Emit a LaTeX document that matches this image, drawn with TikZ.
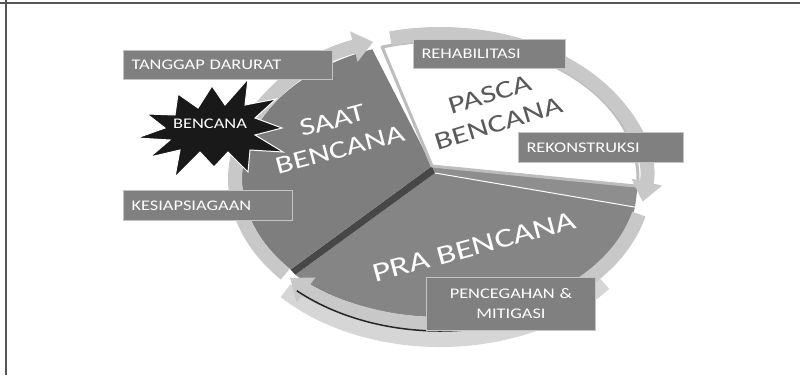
\documentclass[tikz,border=0pt]{standalone}
\usepackage{fontspec}
\usetikzlibrary{arrows.meta,calc}
\newfontfamily\lblfont[FakeStretch=1.25]{Carlito}
\newfontfamily\bigfont[FakeStretch=1.32]{Carlito}
\definecolor{boxgray}{HTML}{808080}
\definecolor{boxedge}{HTML}{C4C4C4}
\definecolor{saatgray}{HTML}{7E7E7E}
\definecolor{pragray}{HTML}{858585}
\definecolor{ringgray}{HTML}{C8C8C8}
\definecolor{ringside}{HTML}{D6D6D6}
\definecolor{sidedark}{HTML}{474747}
\definecolor{pascaside}{HTML}{8E8E8E}
\definecolor{bevel}{HTML}{BDBDBD}
\definecolor{framegray}{HTML}{555555}
\definecolor{pascatext}{HTML}{5A5A5A}
\tikzset{
  lblbox/.style={fill=boxgray, draw=boxedge, line width=1pt, text=white,
    font=\lblfont\fontsize{14.7}{18}\selectfont, anchor=north west,
    inner xsep=8pt, inner ysep=0pt, align=left},
  ringarc/.style={draw=ringgray, line width=14pt, line cap=butt,
    -{Triangle[width=30pt,length=20pt]}},
  bigtxt/.style={font=\bigfont\fontsize{25}{30}\selectfont, align=center, rotate=15, inner sep=0pt},
}
\begin{document}
\begin{tikzpicture}[x=1pt,y=-1pt]
\useasboundingbox (0,0) rectangle (800,375);
\fill[white] (0,0) rectangle (800,375);
% frame
\draw[framegray, line width=2pt] (0,3) -- (800,3);
\draw[framegray, line width=2pt] (6,0) -- (6,375);

\coordinate (E) at (440,179);
\coordinate (E2) at (440,184);
\coordinate (V) at (432,166);
\coordinate (V2) at (435,173);
\coordinate (R) at (440,179);

% lower side of the ring (3D thickness)
\draw[ringside, line width=16pt] ($(440,193)+(38:208 and 146)$) arc[start angle=38, end angle=138, x radius=208, y radius=146];

% PRA sector
\fill[pragray] (V2) -- ($(E2)+(10:198 and 133)$) arc[start angle=10, end angle=137, x radius=198, y radius=133] -- cycle;
% SAAT side face
\fill[sidedark] (V) -- ($(E)+(139:198 and 138)$) -- ($(E2)+(137:198 and 133)$) -- (V2) -- cycle;
% SAAT sector
\fill[saatgray] (V) -- ($(E)+(250:198 and 138)$) arc[start angle=250, end angle=139, x radius=198, y radius=138] -- cycle;
% PASCA side face
\fill[pascaside] (V) -- ($(E)+(363:198 and 138)$) -- ($(E2)+(10:198 and 133)$) -- (V2) -- cycle;
\draw[white, line width=1pt] (V2) -- ($(E2)+(10:198 and 133)$);
% PASCA sector
\filldraw[fill=white, draw=bevel, line width=3pt, line join=round] (V) -- ($(E)+(253:198 and 138)$) arc[start angle=253, end angle=363, x radius=198, y radius=138] -- cycle;

% ring with arrows
\draw[ringarc] ($(R)+(139:205 and 145)$) arc[start angle=139, end angle=251, x radius=205, y radius=145];
\draw[ringarc] ($(R)+(256:205 and 145)$) arc[start angle=256, end angle=369, x radius=205, y radius=145];
\draw[ringarc] ($(R)+(14:205 and 145)$) arc[start angle=14, end angle=137, x radius=205, y radius=145];
% dark lower rim line
\draw[black!85, line width=1.5pt] ($(440,181)+(133:210 and 150)$) arc[start angle=133, end angle=72, x radius=210, y radius=150];

% sector titles
\node[bigtxt, text=white] (saat) at (336,135) {SAAT\\BENCANA};
\node[bigtxt, text=pascatext, rotate=2] (pasca) at (494,109) {PASCA\\BENCANA};
\node[bigtxt, font=\bigfont\fontsize{27}{30}\selectfont, text=white] (pra) at (474,247) {PRA BENCANA};

% starburst
\filldraw[fill=black!90, draw=white, line width=1pt, line join=miter]
 (282,128) -- (255,135) -- (283,152) -- (250,150) -- (248,172) -- (228,152) --
 (214,167) -- (200,152) -- (175,177) -- (180,150) -- (150,157) -- (170,140) --
 (137,138) -- (165,128) -- (147,114) -- (175,115) -- (178,94) -- (198,108) --
 (212,86) -- (225,105) -- (248,79) -- (245,105) -- (276,99) -- (255,118) -- cycle;
\node[text=white, font=\lblfont\fontsize{14.7}{18}\selectfont, inner sep=0pt] (bencana) at (210,124) {BENCANA};

% labels
\node[lblbox, minimum width=209pt, minimum height=29pt, text width=193pt] (tanggap) at (123,50) {TANGGAP DARURAT};
\node[lblbox, minimum width=152pt, minimum height=29pt, text width=136pt] (rehab) at (413,39) {REHABILITASI};
\node[lblbox, minimum width=165pt, minimum height=30pt, text width=149pt] (rekon) at (518,132) {REKONSTRUKSI};
\node[lblbox, minimum width=169pt, minimum height=30pt, text width=153pt] (kesiap) at (123,190) {KESIAPSIAGAAN};
\node[lblbox, align=center, minimum width=169pt, minimum height=53pt, text width=153pt, font=\lblfont\fontsize{14.7}{20}\selectfont] (cegah) at (426,277) {PENCEGAHAN \&\\MITIGASI};
\end{tikzpicture}
\end{document}
